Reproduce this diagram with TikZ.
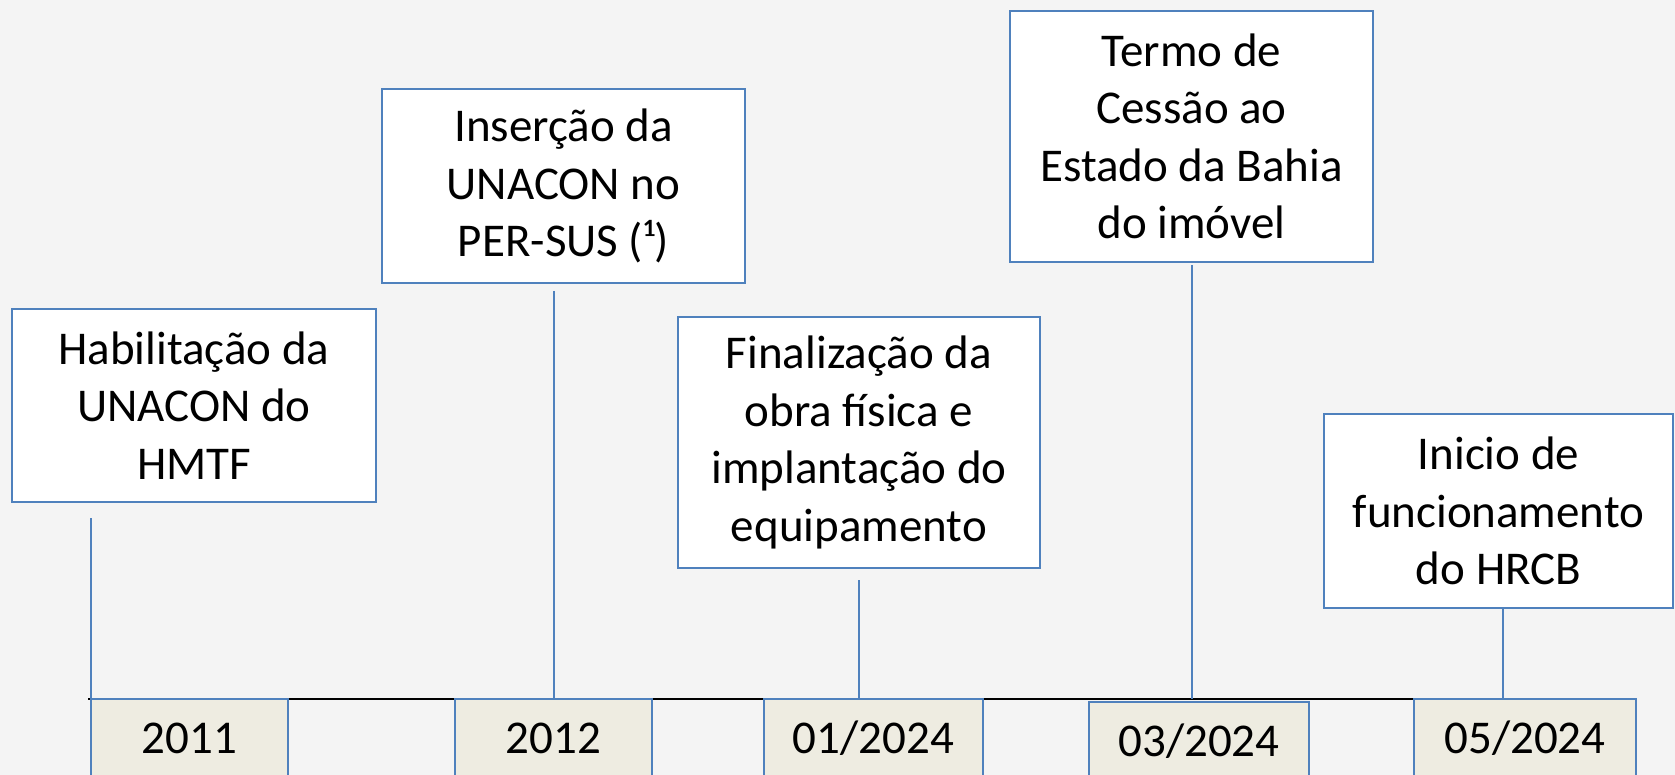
\documentclass[tikz,border=0pt]{standalone}
\usepackage{fontspec}
\setmainfont{Carlito}
\usepackage{xcolor}
\usetikzlibrary{calc,positioning}
\definecolor{boxblue}{RGB}{79,129,189}
\definecolor{yearfill}{RGB}{238,236,225}
\definecolor{backgray}{RGB}{244,244,244}

\begin{document}
\begin{tikzpicture}[x = 1pt, y = -1pt]
	\tikzstyle{every node} = [draw = boxblue, line width = 1.5pt, align = center, inner sep = 0pt, outer sep = 0pt, font = \fontsize{47}{57.5}\selectfont]
	\tikzstyle{event} = [fill = white]
	\tikzstyle{year} = [fill = yearfill, minimum height = 78]
	\tikzstyle{link} = [draw = boxblue, line width = 1.5pt]
\useasboundingbox (0, 0) rectangle (1675, 775);
\fill[backgray] (0, 0) rectangle (1675, 775);

% timeline
\coordinate (a) at (88, 699);
\coordinate (b) at (1600, 699);
	\path[draw, line width = 2pt] (a) -- (b);

\node[year, minimum width = 197] (y0) at (189.5, 738) {2011};
\node[year, minimum width = 197] (y1) at (553.5, 738) {2012};
\node[year, minimum width = 219] (y2) at (873.5, 738) {01/2024};
\node[year, minimum width = 220] (y3) at (1199, 741) {03/2024};
\node[year, minimum width = 222] (y4) at (1525, 738) {05/2024};

\node[event, minimum width = 364, minimum height = 193] (0) at (194, 405.5) {Habilitação da\\UNACON do\\HMTF};
\node[event, minimum width = 363, minimum height = 194] (1) at (563.5, 186) {Inserção da\\UNACON no\\PER-SUS (¹)};
\node[event, minimum width = 362, minimum height = 251] (2) at (859, 442.5) {Finalização da\\obra física e\\implantação do\\equipamento};
\node[event, minimum width = 363, minimum height = 251] (3) at (1191.5, 136.5) {Termo de\\Cessão ao\\Estado da Bahia\\do imóvel};
\node[event, minimum width = 349, minimum height = 194] (4) at (1498.5, 511) {Inicio de\\funcionamento\\do HRCB};

% connectors
\coordinate (c0) at (91, 518);
\coordinate (c1) at (554, 291);
\coordinate (c2) at (859, 580);
\coordinate (c3) at (1192, 265);
\coordinate (c4) at (1503, 608);

	\path[link] (c0) -- (c0 |- a);
	\path[link] (c1) -- (c1 |- a);
	\path[link] (c2) -- (c2 |- a);
	\path[link] (c3) -- (c3 |- a);
	\path[link] (c4) -- (c4 |- y4.north);
	\end{tikzpicture}
\end{document}
